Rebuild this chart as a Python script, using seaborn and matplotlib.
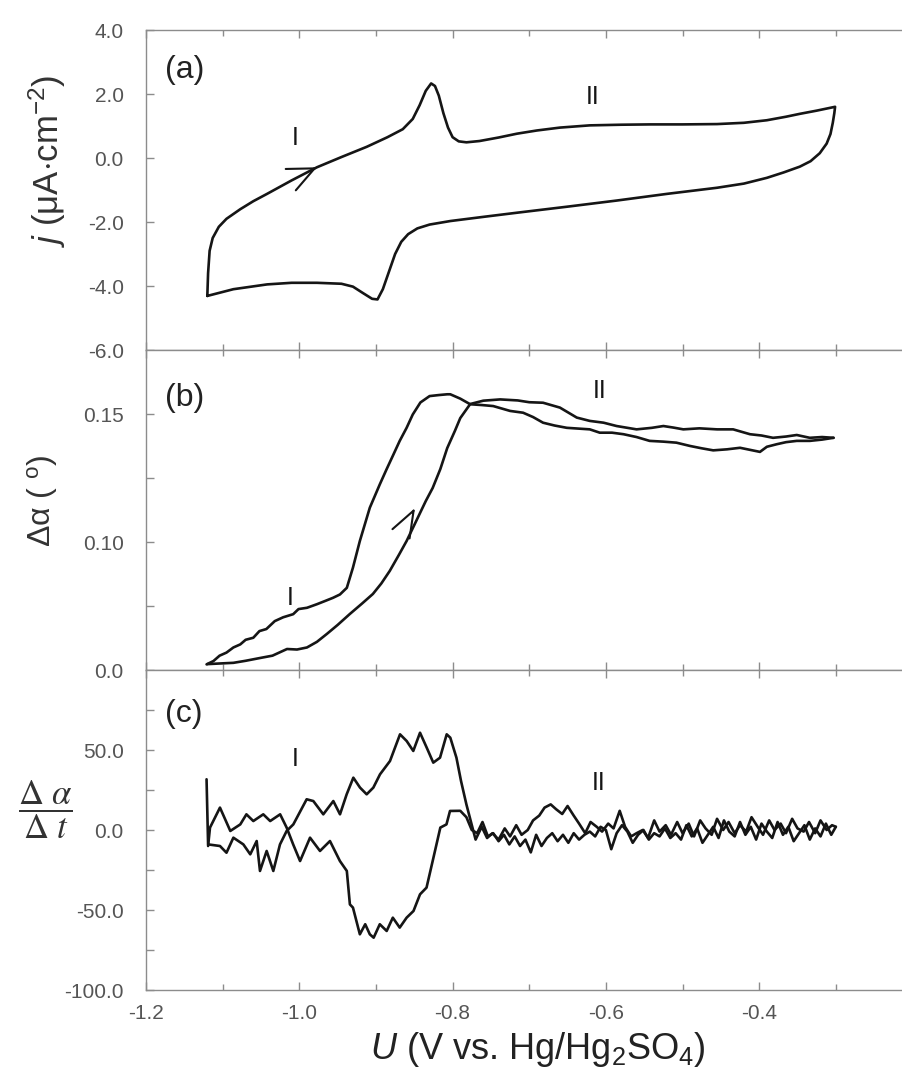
import matplotlib
matplotlib.use("Agg")
import matplotlib.pyplot as plt
import seaborn as sns
from matplotlib.ticker import MultipleLocator, FixedLocator, FixedFormatter

# ---------------- data ----------------
# (a) cyclic voltammogram: potential U (V) and current density j (uA cm-2)
a_U = [-1.120, -1.119, -1.117, -1.113, -1.105, -1.095, -1.077, -1.060, -1.042, -1.010,
       -0.977, -0.945, -0.912, -0.885, -0.865, -0.852, -0.843, -0.835, -0.828, -0.823,
       -0.818, -0.812, -0.806, -0.800, -0.792, -0.782, -0.765, -0.740, -0.716, -0.690,
       -0.660, -0.621, -0.580, -0.542, -0.500, -0.455, -0.420, -0.390, -0.365, -0.347,
       -0.325, -0.301, -0.302, -0.304, -0.307, -0.312, -0.321, -0.333, -0.347, -0.368,
       -0.390, -0.420, -0.455, -0.520, -0.586, -0.650, -0.716, -0.760, -0.803, -0.830,
       -0.846, -0.858, -0.867, -0.875, -0.883, -0.891, -0.898, -0.905, -0.917, -0.930,
       -0.945, -0.977, -1.010, -1.042, -1.086, -1.120]
a_j = [-4.31, -3.60, -2.90, -2.50, -2.15, -1.90, -1.60, -1.35, -1.12, -0.70,
       -0.29, 0.03, 0.35, 0.65, 0.90, 1.22, 1.65, 2.10, 2.33, 2.25,
       1.95, 1.40, 0.95, 0.65, 0.52, 0.49, 0.53, 0.64, 0.76, 0.86,
       0.95, 1.02, 1.04, 1.05, 1.05, 1.06, 1.10, 1.18, 1.29, 1.38,
       1.48, 1.60, 1.40, 1.10, 0.75, 0.45, 0.15, -0.10, -0.27, -0.45,
       -0.62, -0.80, -0.93, -1.12, -1.33, -1.52, -1.71, -1.84, -1.97, -2.08,
       -2.20, -2.38, -2.62, -3.00, -3.55, -4.10, -4.42, -4.40, -4.22, -4.02,
       -3.93, -3.90, -3.90, -3.95, -4.10, -4.31]

# (b) ellipsometric angle change (deg); positive-going and negative-going scans
b_fwd_U = [-1.120, -1.100, -1.086, -1.070, -1.051, -1.035, -1.016, -1.003, -0.990, -0.977,
           -0.964, -0.950, -0.934, -0.918, -0.904, -0.893, -0.882, -0.870, -0.860, -0.851,
           -0.843, -0.835, -0.826, -0.816, -0.807, -0.797, -0.790, -0.777, -0.760, -0.738,
           -0.715, -0.700, -0.682, -0.660, -0.638, -0.621, -0.603, -0.586, -0.560, -0.540,
           -0.525, -0.512, -0.499, -0.478, -0.455, -0.434, -0.412, -0.397, -0.382, -0.365,
           -0.351, -0.334, -0.318, -0.303]
b_fwd = [0.0523, 0.0526, 0.0528, 0.0536, 0.0547, 0.0556, 0.0582, 0.0580, 0.0588, 0.0610,
         0.0641, 0.0676, 0.0719, 0.0760, 0.0797, 0.0838, 0.0887, 0.0950, 0.1004, 0.1060,
         0.1110, 0.1160, 0.1211, 0.1285, 0.1367, 0.1434, 0.1484, 0.1539, 0.1552, 0.1557,
         0.1553, 0.1546, 0.1544, 0.1525, 0.1486, 0.1473, 0.1466, 0.1453, 0.1440, 0.1446,
         0.1453, 0.1447, 0.1440, 0.1444, 0.1440, 0.1440, 0.1421, 0.1416, 0.1407, 0.1412,
         0.1418, 0.1407, 0.1410, 0.1407]
b_rev_U = [-0.303, -0.318, -0.334, -0.351, -0.365, -0.377, -0.390, -0.399, -0.412, -0.425,
           -0.442, -0.460, -0.475, -0.490, -0.508, -0.525, -0.543, -0.560, -0.577, -0.592,
           -0.608, -0.621, -0.636, -0.651, -0.667, -0.682, -0.695, -0.708, -0.725, -0.747,
           -0.762, -0.777, -0.790, -0.803, -0.807, -0.818, -0.830, -0.842, -0.852, -0.860,
           -0.869, -0.877, -0.886, -0.895, -0.908, -0.921, -0.930, -0.938, -0.947, -0.956,
           -0.966, -0.977, -0.990, -1.001, -1.008, -1.021, -1.032, -1.043, -1.052, -1.060,
           -1.070, -1.077, -1.086, -1.095, -1.104, -1.112, -1.121]
b_rev = [0.1407, 0.1400, 0.1395, 0.1395, 0.1390, 0.1382, 0.1372, 0.1352, 0.1360, 0.1368,
         0.1362, 0.1358, 0.1366, 0.1375, 0.1388, 0.1392, 0.1395, 0.1410, 0.1421, 0.1427,
         0.1427, 0.1440, 0.1443, 0.1446, 0.1455, 0.1466, 0.1488, 0.1505, 0.1512, 0.1531,
         0.1535, 0.1538, 0.1560, 0.1577, 0.1577, 0.1574, 0.1570, 0.1545, 0.1498, 0.1446,
         0.1395, 0.1343, 0.1285, 0.1225, 0.1134, 0.1004, 0.0900, 0.0821, 0.0795, 0.0782,
         0.0770, 0.0757, 0.0743, 0.0738, 0.0718, 0.0706, 0.0691, 0.0660, 0.0652, 0.0626,
         0.0618, 0.0600, 0.0588, 0.0568, 0.0556, 0.0535, 0.0522]
b_ticks = [0.05, 0.10, 0.15]
b_tick_labels = ["0.0", "0.10", "0.15"]

# (c) time derivative of the ellipsometric angle
c_fwd_U = [-1.121, -1.119, -1.1035, -1.095, -1.086, -1.073, -1.064, -1.0556, -1.0513, -1.0426,
           -1.0339, -1.0252, -1.0165, -1.0078, -0.9904, -0.9817, -0.9687, -0.9556, -0.9469, -0.9382,
           -0.9295, -0.9208, -0.9121, -0.9034, -0.8947, -0.8817, -0.8686, -0.8599, -0.8513, -0.8425,
           -0.8338, -0.8252, -0.8164, -0.8077, -0.8030, -0.7950, -0.7890, -0.7820,
           -0.770, -0.762, -0.755, -0.748, -0.740, -0.732, -0.725, -0.717, -0.710, -0.702,
           -0.695, -0.687, -0.680, -0.672, -0.665, -0.657, -0.650, -0.642, -0.635, -0.627,
           -0.620, -0.612, -0.605, -0.597, -0.590, -0.582, -0.575, -0.567, -0.560, -0.552,
           -0.545, -0.537, -0.530, -0.522, -0.515, -0.507, -0.500, -0.492, -0.485, -0.477,
           -0.470, -0.462, -0.455, -0.447, -0.440, -0.432, -0.425, -0.417, -0.410, -0.402,
           -0.395, -0.387, -0.380, -0.372, -0.365, -0.357, -0.350, -0.342, -0.335, -0.327,
           -0.320, -0.312, -0.305, -0.300]
c_fwd = [31.7, -9.0, -10.0, -14.2, -4.8, -9.0, -15.2, -6.9, -25.6, -13.1,
         -25.6, -9.0, -0.6, 3.5, 19.2, 18.1, 9.8, 18.1, 9.8, 22.3,
         32.7, 26.5, 22.3, 26.5, 34.8, 43.1, 59.8, 55.6, 49.4, 60.8,
         51.5, 42.1, 45.2, 59.8, 57.7, 45.2, 30.6, 16.0,
         -6, 2, -5, -2, -6, 1, -4, 3, -3, 0,
         6, 9, 14, 16, 13, 10, 15, 9, 4, -2,
         5, 2, -1, 4, 1, 12, 2, -4, -2, 0,
         -5, 6, -1, 3, -3, 5, -2, 4, -4, 6,
         1, -3, 7, 0, 5, -2, 3, -1, 8, 2,
         -3, 6, 0, 4, -2, 7, 1, -1, 5, -2,
         6, 0, 3, 2]
c_rev_U = [-0.300, -0.306, -0.313, -0.320, -0.327, -0.334, -0.341, -0.348, -0.355, -0.362,
           -0.369, -0.376, -0.383, -0.390, -0.397, -0.404, -0.411, -0.418, -0.425, -0.432,
           -0.439, -0.446, -0.453, -0.460, -0.467, -0.474, -0.481, -0.488, -0.495, -0.502,
           -0.509, -0.516, -0.523, -0.530, -0.537, -0.544, -0.551, -0.558, -0.565, -0.572,
           -0.579, -0.586, -0.593, -0.600, -0.607, -0.614, -0.621, -0.628, -0.635, -0.642,
           -0.649, -0.656, -0.663, -0.670, -0.677, -0.684, -0.691, -0.698, -0.705, -0.712,
           -0.719, -0.726, -0.733, -0.740, -0.747, -0.754, -0.761, -0.768, -0.775, -0.782,
           -0.790, -0.8034, -0.808, -0.816, -0.825, -0.834, -0.8425, -0.851, -0.860, -0.869,
           -0.878, -0.886, -0.895, -0.903, -0.908, -0.914, -0.921, -0.930, -0.934, -0.938,
           -0.947, -0.960, -0.973, -0.986, -0.999, -1.008, -1.0165, -1.025, -1.038, -1.047,
           -1.060, -1.069, -1.077, -1.090, -1.1035, -1.1165, -1.119]
c_rev = [2, -3, 4, -4, 1, -6, 3, -2, -7, 2,
         -3, 5, -5, -1, 4, -6, 2, -3, 5, -4,
         -1, 6, -5, 2, -3, -8, 1, -4, 3, -6,
         -2, -5, 1, -4, -2, -6, 0, -3, -8, -1,
         3, -2, -12, 0, 2, -4, -1, -3, -6, -2,
         -8, -3, -7, -2, -5, -10, -3, -14, -6, -10,
         -4, -9, -3, -7, -2, -4, 5, -2, 0, 8,
         12, 11.9, 3.5, 1.5, -17.3, -36.0, -40.2, -50.6, -54.8, -61.0,
         -54.8, -63.1, -58.9, -67.3, -65.2, -58.9, -65.2, -48.5, -46.5, -25.6,
         -19.4, -6.9, -13.1, -4.8, -19.4, -9.0, 1.5, 9.8, 5.6, 9.8,
         5.6, 9.8, 3.5, -0.6, 14.0, 1.5, -10.0]

x_major_ticks = [-1.2, -1.0, -0.8, -0.6, -0.4]
x_tick_labels = ["-1.2", "-1.0", "-0.8", "-0.6", "-0.4"]
a_ticks = [-6, -4, -2, 0, 2, 4]
a_tick_labels = ["-6.0", "-4.0", "-2.0", "0.0", "2.0", "4.0"]
c_ticks = [-100, -50, 0, 50]
c_tick_labels = ["-100.0", "-50.0", "0.0", "50.0"]

# ---------------- style ----------------
sns.set_theme(style="ticks")
plt.rcParams["font.family"] = ["Liberation Sans", "DejaVu Sans"]
plt.rcParams["mathtext.fontset"] = "custom"
plt.rcParams["mathtext.rm"] = "Liberation Sans"
plt.rcParams["mathtext.it"] = "Liberation Sans:italic"
plt.rcParams["mathtext.bf"] = "Liberation Sans:bold"
plt.rcParams["axes.unicode_minus"] = False

SPINE = "#8c8c8c"
TICKTXT = "#555555"
INK = "#151515"
TICKFONT = ["Liberation Sans", "DejaVu Sans"]

fig = plt.figure(figsize=(9.02, 10.76), dpi=100)
gs = fig.add_gridspec(3, 1, left=146 / 902, right=1.0,
                      top=1 - 30 / 1076, bottom=1 - 990 / 1076, hspace=0)
axes = [fig.add_subplot(gs[i]) for i in range(3)]

for ax in axes:
    ax.set_xlim(-1.2, -0.2137)
    ax.xaxis.set_major_locator(FixedLocator(x_major_ticks))
    ax.xaxis.set_minor_locator(MultipleLocator(0.1))
    ax.spines["right"].set_visible(False)
    for s in ("left", "top", "bottom"):
        ax.spines[s].set_color(SPINE)
        ax.spines[s].set_linewidth(1.0)
    ax.tick_params(axis="x", which="both", direction="in", top=True, bottom=True,
                   color=SPINE, width=1.0)
    ax.tick_params(axis="x", which="major", length=6)
    ax.tick_params(axis="x", which="minor", length=4.5)
    ax.tick_params(axis="y", which="both", direction="in", left=True, right=False,
                   color=SPINE, width=1.0, labelcolor=TICKTXT, labelsize=15, pad=16)
    ax.tick_params(axis="y", which="major", length=6)
    ax.tick_params(axis="y", which="minor", length=6)
    ax.set_xlabel("")
    ax.set_ylabel("")

lw = 1.9

# (a)
ax = axes[0]
sns.lineplot(x=a_U, y=a_j, sort=False, estimator=None, color=INK, lw=lw, ax=ax)
ax.set_ylim(-6, 4)
ax.yaxis.set_major_locator(FixedLocator(a_ticks))
ax.yaxis.set_major_formatter(FixedFormatter(a_tick_labels))
ax.annotate("", xy=(-0.977, -0.29), xytext=(-3.6, -1.7), textcoords="offset points",
            arrowprops=dict(arrowstyle="->,head_length=1.9,head_width=0.85",
                            mutation_scale=10, lw=1.5, color=INK,
                            shrinkA=0, shrinkB=0))
ax.text(-1.0056, 0.61, "I", fontsize=18, ha="center", va="center", color=INK)
ax.text(-0.617, 1.90, "II", fontsize=18, ha="center", va="center", color=INK)
ax.text(0.025, 0.875, "(a)", transform=ax.transAxes, fontsize=23, ha="left",
        va="center", color="#222222")
ax.set_ylabel(r"$j$ (μA$\cdot$cm$^{-2}$)", fontsize=25, color="#333333")
ax.yaxis.set_label_coords(-0.13, 0.59)
ax.yaxis.label.set_va("center")
ax.tick_params(axis="x", labelbottom=False)

# (b)
ax = axes[1]
sns.lineplot(x=b_fwd_U, y=b_fwd, sort=False, estimator=None, color=INK, lw=lw, ax=ax)
sns.lineplot(x=b_rev_U, y=b_rev, sort=False, estimator=None, color=INK, lw=lw, ax=ax)
ax.set_ylim(0.05, 0.175)
ax.yaxis.set_major_locator(FixedLocator(b_ticks))
ax.yaxis.set_major_formatter(FixedFormatter(b_tick_labels))
ax.yaxis.set_minor_locator(FixedLocator([0.075, 0.125]))
ax.annotate("", xy=(-0.849, 0.1133), xytext=(-1.9, -3.5), textcoords="offset points",
            arrowprops=dict(arrowstyle="->,head_length=1.9,head_width=0.7",
                            mutation_scale=10, lw=1.5, color=INK,
                            shrinkA=0, shrinkB=0))
ax.text(-1.012, 0.0781, "I", fontsize=18, ha="center", va="center", color=INK)
ax.text(-0.608, 0.159, "II", fontsize=18, ha="center", va="center", color=INK)
ax.text(0.025, 0.85, "(b)", transform=ax.transAxes, fontsize=23, ha="left",
        va="center", color="#222222")
ax.set_ylabel(r"Δα ( $^{\rm o}$)", fontsize=23, color="#333333")
ax.yaxis.set_label_coords(-0.137, 0.53)
ax.yaxis.label.set_va("center")
ax.tick_params(axis="x", labelbottom=False)

# (c)
ax = axes[2]
sns.lineplot(x=c_fwd_U, y=c_fwd, sort=False, estimator=None, color=INK, lw=lw, ax=ax)
sns.lineplot(x=c_rev_U, y=c_rev, sort=False, estimator=None, color=INK, lw=lw, ax=ax)
ax.set_ylim(-100, 100)
ax.yaxis.set_major_locator(FixedLocator(c_ticks))
ax.yaxis.set_major_formatter(FixedFormatter(c_tick_labels))
ax.yaxis.set_minor_locator(FixedLocator([-75, -25, 25, 75]))
ax.text(-1.0056, 44.4, "I", fontsize=18, ha="center", va="center", color=INK)
ax.text(-0.610, 29.4, "II", fontsize=18, ha="center", va="center", color=INK)
ax.text(0.025, 0.863, "(c)", transform=ax.transAxes, fontsize=23, ha="left",
        va="center", color="#222222")
ax.set_ylabel(r"$\dfrac{\mathit{\Delta}\ \alpha}{\mathit{\Delta}\ t}$", fontsize=25,
              rotation=0, color="#333333", math_fontfamily="stix")
ax.yaxis.set_label_coords(-0.133, 0.565)
ax.yaxis.label.set_va("center")
ax.yaxis.label.set_ha("center")
ax.xaxis.set_major_formatter(FixedFormatter(x_tick_labels))
ax.tick_params(axis="x", labelbottom=True, labelcolor=TICKTXT, labelsize=15, pad=10)
ax.set_xlabel(r"$U$ (V vs. Hg/Hg$_2$SO$_4$)", fontsize=26, color="#222222", labelpad=2)
ax.xaxis.set_label_coords(0.518, -0.125)

for ax in axes:
    for lab in ax.get_xticklabels() + ax.get_yticklabels():
        lab.set_fontfamily(TICKFONT)

fig.savefig("out.png", dpi=100)
